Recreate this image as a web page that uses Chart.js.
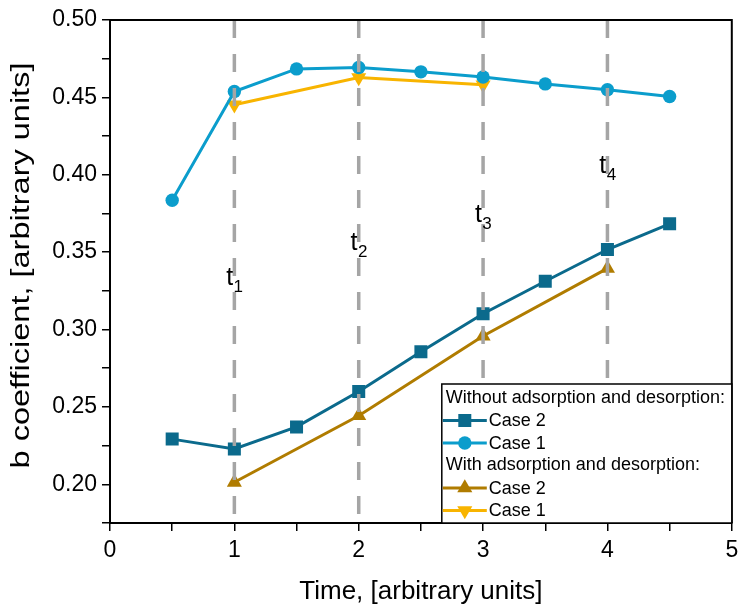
<!DOCTYPE html>
<html>
<head>
<meta charset="utf-8">
<script src="https://cdn.jsdelivr.net/npm/chart.js@4"></script>
<style>
  html, body { margin: 0; padding: 0; background: #fff; }
  #wrap { width: 741px; height: 611px; }
</style>
</head>
<body>
<div id="wrap"><canvas id="bChart"></canvas></div>
<script>
// time points
const timeFull = [0.5, 1, 1.5, 2, 2.5, 3, 3.5, 4, 4.5];
const timeMarks = [1, 2, 3, 4];

// without adsorption and desorption
const noAdsCase2 = [0.2292, 0.2228, 0.2371, 0.2600, 0.2857, 0.3102, 0.3312, 0.3517, 0.3683];
const noAdsCase1 = [0.3835, 0.4538, 0.4684, 0.4693, 0.4665, 0.4632, 0.4587, 0.4549, 0.4506];

// with adsorption and desorption
const adsCase2 = [0.2013, 0.2443, 0.2958, 0.3395];
const adsCase1 = [0.4452, 0.4628, 0.4581];

// t labels (subscript, b value at label baseline)
const markLabels = ['1', '2', '3', '4'];
const markLabelY = [0.3291, 0.3517, 0.3698, 0.4014];

const yTitle = 'b coefficient, [arbitrary units]';
const xTitle = 'Time, [arbitrary units]';

const FONT = "'Liberation Sans', Arial, sans-serif";
const colNoAds2 = '#0b6a8c';
const colNoAds1 = '#0b9dcc';
const colAds2 = '#b07c00';
const colAds1 = '#f8b400';

function pts(xs, ys) {
    return ys.map((y, i) => ({ x: xs[i], y: y }));
}

const datasets = [
    { label: 'Case 2', data: pts(timeFull, noAdsCase2), borderColor: colNoAds2, backgroundColor: colNoAds2,
      pointStyle: 'rect', pointRadius: 9.2, borderWidth: 3 },
    { label: 'Case 1', data: pts(timeFull, noAdsCase1), borderColor: colNoAds1, backgroundColor: colNoAds1,
      pointStyle: 'circle', pointRadius: 6.7, borderWidth: 3 },
    { label: 'Case 2', data: pts(timeMarks, adsCase2), borderColor: colAds2, backgroundColor: colAds2,
      pointStyle: 'triangle', pointRadius: 8.7, borderWidth: 3 },
    { label: 'Case 1', data: pts(timeMarks, adsCase1), borderColor: colAds1, backgroundColor: colAds1,
      pointStyle: 'triangle', pointRotation: 180, pointRadius: 8.7, borderWidth: 3 }
];
datasets.forEach(d => { d.pointBorderWidth = 0; d.fill = false; d.tension = 0; });

// dashed lines, frame, t labels, y title and legend
const extras = {
    id: 'extras',
    afterDatasetsDraw(chart) {
        const c = chart.ctx;
        const xs = chart.scales.x, ys = chart.scales.y;
        const a = chart.chartArea;

        c.save();
        c.strokeStyle = '#a5a5a5';
        c.lineWidth = 3.5;
        c.setLineDash([18, 16]);
        timeMarks.forEach(t => {
            const px = xs.getPixelForValue(t);
            c.beginPath();
            c.moveTo(px, a.top);
            c.lineTo(px, a.bottom);
            c.stroke();
        });
        c.setLineDash([]);

        // t labels
        c.fillStyle = '#000';
        c.textBaseline = 'alphabetic';
        c.textAlign = 'left';
        timeMarks.forEach((t, i) => {
            const px = xs.getPixelForValue(t);
            const py = ys.getPixelForValue(markLabelY[i]);
            c.font = '25px ' + FONT;
            const w1 = c.measureText('t').width;
            c.font = '17px ' + FONT;
            const w2 = c.measureText(markLabels[i]).width;
            const x0 = px - (w1 + w2) / 2;
            c.font = '25px ' + FONT;
            c.fillText('t', x0, py);
            c.font = '17px ' + FONT;
            c.fillText(markLabels[i], x0 + w1 + 0.5, py + 7);
        });

        // y title, stretched along the axis like the original
        c.save();
        c.translate(22, (a.top + a.bottom) / 2 - 6);
        c.rotate(-Math.PI / 2);
        c.scale(1.3, 1);
        c.font = '25px ' + FONT;
        c.textAlign = 'center';
        c.textBaseline = 'middle';
        c.fillText(yTitle, 0, 0);
        c.restore();

        // top and right frame
        c.strokeStyle = '#000';
        c.lineWidth = 2;
        c.beginPath();
        c.moveTo(a.left, a.top);
        c.lineTo(a.right, a.top);
        c.lineTo(a.right, a.bottom);
        c.stroke();

        // legend
        const lw = 290, lh = 139;
        const lx = a.right - lw, ly = a.bottom - lh;
        c.fillStyle = '#fff';
        c.fillRect(lx, ly, lw, lh);
        c.strokeStyle = '#000';
        c.lineWidth = 1.5;
        c.strokeRect(lx, ly, lw, lh);

        const rows = [
            { head: 'Without adsorption and desorption:' },
            { ds: 0 }, { ds: 1 },
            { head: 'With adsorption and desorption:' },
            { ds: 2 }, { ds: 3 }
        ];
        c.font = '18px ' + FONT;
        c.textBaseline = 'middle';
        c.textAlign = 'left';
        rows.forEach((r, i) => {
            const cy = ly + 14 + i * 22.5;
            if (r.head) {
                c.fillStyle = '#000';
                c.fillText(r.head, lx + 4, cy);
            } else {
                const d = chart.data.datasets[r.ds];
                c.strokeStyle = d.borderColor;
                c.lineWidth = 3;
                c.beginPath();
                c.moveTo(lx + 1, cy);
                c.lineTo(lx + 45, cy);
                c.stroke();
                c.fillStyle = d.backgroundColor;
                Chart.helpers.drawPoint(c, {
                    pointStyle: d.pointStyle, rotation: d.pointRotation || 0,
                    radius: d.pointRadius, borderWidth: 0
                }, lx + 23, cy);
                c.fillStyle = '#000';
                c.fillText(d.label, lx + 47, cy + 1);
            }
        });
        c.restore();
    }
};

const ctx = document.getElementById('bChart').getContext('2d');

new Chart(ctx, {
    type: 'line',
    data: { datasets: datasets },
    options: {
        responsive: true,
        maintainAspectRatio: false,
        animation: false,
        layout: { padding: { top: 20, right: 8, left: 0, bottom: 0 } },
        plugins: { legend: { display: false }, tooltip: { enabled: false } },
        scales: {
            x: {
                type: 'linear',
                min: 0, max: 5,
                afterFit: s => { s.height = 88; s.paddingRight = 0; s.paddingLeft = 0; },
                ticks: {
                    stepSize: 0.5, autoSkip: false, maxRotation: 0,
                    color: '#000', font: { family: FONT, size: 23 }, padding: 6,
                    callback: v => (Math.abs(v - Math.round(v)) < 1e-6 ? String(Math.round(v)) : '')
                },
                grid: { drawOnChartArea: false, drawTicks: true, tickLength: 8, color: '#000', lineWidth: 1.5 },
                border: { color: '#000', width: 2 },
                title: { display: true, text: xTitle, color: '#000',
                         font: { family: FONT, size: 26 }, padding: { top: 0, bottom: 4 } }
            },
            y: {
                min: 0.175, max: 0.5,
                afterFit: s => { s.width = 110; },
                ticks: {
                    stepSize: 0.025, autoSkip: false,
                    color: '#000', font: { family: FONT, size: 23 }, padding: 5,
                    callback: v => (Math.round(v * 1000) % 50 === 0 ? v.toFixed(2) : '')
                },
                grid: { drawOnChartArea: false, drawTicks: true, tickLength: 8, color: '#000', lineWidth: 1.5 },
                border: { color: '#000', width: 2 },
                title: { display: false }
            }
        }
    },
    plugins: [extras]
});
</script>
</body>
</html>
